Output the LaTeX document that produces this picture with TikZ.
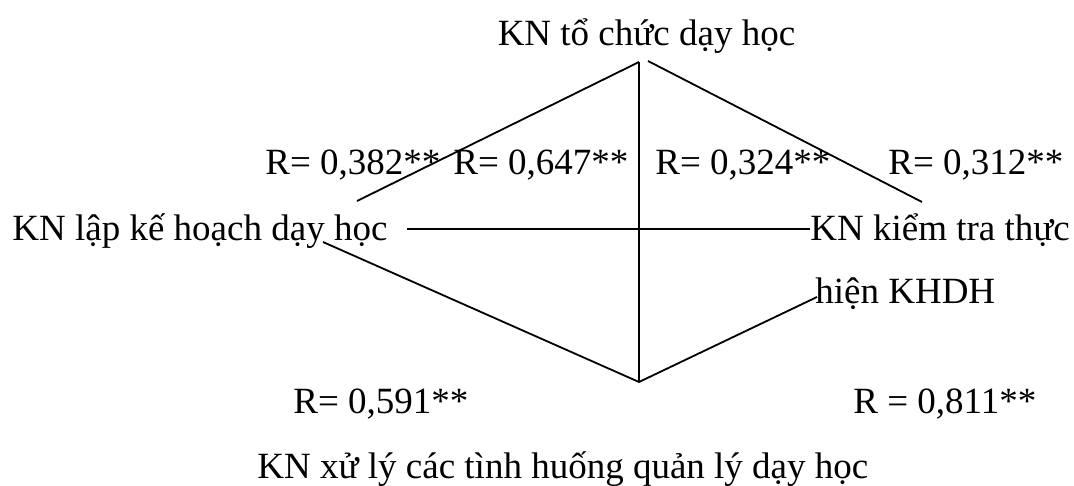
\documentclass[tikz,border=0pt]{standalone}
\usepackage{fontspec}
\setmainfont{Liberation Serif}
\usepackage{tikz}
\usetikzlibrary{positioning}

\tikzset{
 lbl/.style={inner sep=0pt,anchor=base west,font=\fontsize{18.5}{31.5}\selectfont},
 link/.style={line width=0.9pt}
}

\begin{document}
\begin{tikzpicture}[x=0.5pt,y=-0.5pt]
 \useasboundingbox (0,0) rectangle (1074,486);

 \node[lbl,anchor=base] (tc) at (646.5,46) {KN tổ chức dạy học};
 \node[lbl] (kh) at (12,240) {KN lập kế hoạch dạy học};
 % base of a two-line node is its last line
 \node[lbl,align=left] (kt) at (810,303) {KN kiểm tra thực\\\hspace*{2.5pt}hiện KHDH};
 \node[lbl] (xl) at (257,478) {KN xử lý các tình huống quản lý dạy học};

 \node[lbl] (r1) at (265,175) {R= 0,382**};
 \node[lbl] (r2) at (453,175) {R= 0,647**};
 \node[lbl] (r3) at (655,175) {R= 0,324**};
 \node[lbl] (r4) at (888,175) {R= 0,312**};
 \node[lbl] (r5) at (293,413) {R= 0,591**};
 \node[lbl] (r6) at (853,413) {R = 0,811**};

 % end points of the links
 \coordinate (topv) at (639,62);
 \coordinate (topr) at (648,61);
 \coordinate (botv) at (639,382);
 \coordinate (khA) at (357,201);
 \coordinate (khB) at (323,242);
 \coordinate (khC) at (407,229);
 \coordinate (ktA) at (922,202);
 \coordinate (ktB) at (810,229);
 \coordinate (ktC) at (817,297);

 \draw[link] (topv)--(khA);
 \draw[link] (topr)--(ktA);
 \draw[link] (topv)--(botv);
 \draw[link] (khC)--(ktB);
 \draw[link] (khB)--(botv)--(ktC);
\end{tikzpicture}
\end{document}
